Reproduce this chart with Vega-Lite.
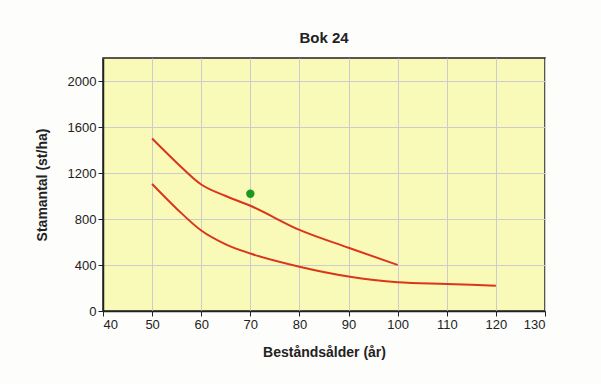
{
  "$schema": "https://vega.github.io/schema/vega-lite/v6.json",
  "width": 442,
  "height": 253,
  "autosize": {"type": "none"},
  "padding": {"left": 103, "top": 58, "right": 56, "bottom": 73},
  "background": "#fdfdfb",
  "title": {"text": "Bok 24", "font": "Liberation Sans", "fontSize": 15, "fontWeight": "bold", "color": "#222222", "offset": 12},
  "config": {
    "view": {"fill": "#fafab8", "stroke": "#222222", "strokeWidth": 1.5},
    "axis": {
      "labelFont": "Liberation Sans", "labelFontSize": 13, "labelColor": "#222222",
      "titleFont": "Liberation Sans", "titleFontSize": 14, "titleFontWeight": "bold", "titleColor": "#222222",
      "gridColor": "#cccccc", "gridWidth": 1, "gridOpacity": 1,
      "domainColor": "#222222", "domainWidth": 1.5, "tickColor": "#222222", "tickSize": 5, "format": "d"
    }
  },
  "datasets": {
    "curves": [
      {"age": 50, "n": 1500, "s": "upper"},
      {"age": 55, "n": 1290, "s": "upper"},
      {"age": 60, "n": 1100, "s": "upper"},
      {"age": 65, "n": 1000, "s": "upper"},
      {"age": 70, "n": 915, "s": "upper"},
      {"age": 80, "n": 705, "s": "upper"},
      {"age": 90, "n": 550, "s": "upper"},
      {"age": 100, "n": 400, "s": "upper"},
      {"age": 50, "n": 1105, "s": "lower"},
      {"age": 55, "n": 890, "s": "lower"},
      {"age": 60, "n": 700, "s": "lower"},
      {"age": 65, "n": 580, "s": "lower"},
      {"age": 70, "n": 500, "s": "lower"},
      {"age": 80, "n": 385, "s": "lower"},
      {"age": 90, "n": 300, "s": "lower"},
      {"age": 100, "n": 250, "s": "lower"},
      {"age": 110, "n": 235, "s": "lower"},
      {"age": 120, "n": 220, "s": "lower"}
    ],
    "pts": [{"age": 70, "n": 1020}]
  },
  "layer": [
    {
      "data": {"name": "curves"},
      "mark": {"type": "line", "color": "#d9361c", "strokeWidth": 2, "interpolate": "monotone"},
      "encoding": {
        "x": {"field": "age", "type": "quantitative", "scale": {"domain": [40, 130], "nice": false},
              "axis": {"values": [40, 50, 60, 70, 80, 90, 100, 110, 120, 130], "title": "Beståndsålder (år)", "titlePadding": 14}},
        "y": {"field": "n", "type": "quantitative", "scale": {"domain": [0, 2200], "nice": false},
              "axis": {"values": [0, 400, 800, 1200, 1600, 2000], "title": "Stamantal (st/ha)", "titlePadding": 18}},
        "detail": {"field": "s"}
      }
    },
    {
      "data": {"name": "pts"},
      "mark": {"type": "point", "filled": true, "color": "#1a9a1a", "size": 70, "opacity": 1},
      "encoding": {
        "x": {"field": "age", "type": "quantitative"},
        "y": {"field": "n", "type": "quantitative"}
      }
    }
  ]
}
